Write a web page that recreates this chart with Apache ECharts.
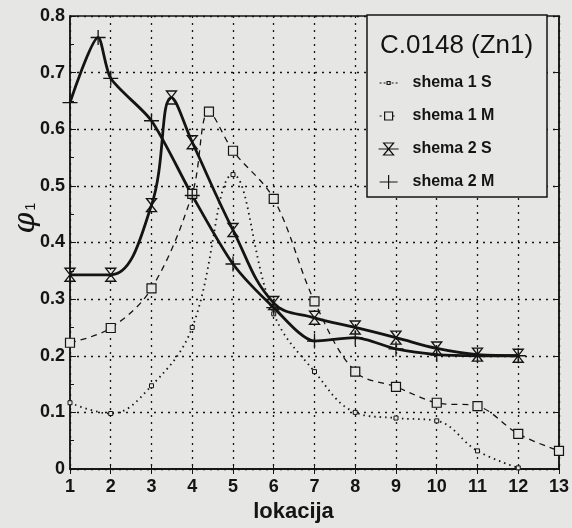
<!DOCTYPE html>
<html><head><meta charset="utf-8">
<script src="https://cdn.jsdelivr.net/npm/echarts@6/dist/echarts.min.js"></script>
<style>html,body{margin:0;padding:0;background:#e6e6e4}#c{width:572px;height:528px}</style>
</head><body><div id="c"></div>
<script>
const xTicks = [1,2,3,4,5,6,7,8,9,10,11,12,13];
const yTicks = [0,0.1,0.2,0.3,0.4,0.5,0.6,0.7,0.8];

const s1S_x = [1,2,3,4,5,6,7,8,9,10,11,12];
const s1S_y = [0.117,0.098,0.147,0.25,0.52,0.274,0.172,0.10,0.09,0.085,0.032,0.002];

const s1M_x = [1,2,3,4,4.41,5,6,7,8,9,10,11,12,13];
const s1M_y = [0.223,0.249,0.319,0.486,0.631,0.562,0.477,0.296,0.172,0.145,0.117,0.111,0.062,0.032];

const s2S_x = [1,2,3,3.49,4,5,6,7,8,9,10,11,12];
const s2S_y = [0.343,0.343,0.466,0.656,0.577,0.422,0.293,0.267,0.25,0.232,0.213,0.202,0.2];

const s2M_x = [1,1.69,2,3,4,5,6,7,8,9,10,11,12];
const s2M_y = [0.647,0.762,0.69,0.615,0.483,0.362,0.285,0.226,0.232,0.212,0.202,0.2,0.2];

const names = ['shema 1 S','shema 1 M','shema 2 S','shema 2 M'];
const titleText = 'C.0148 (Zn1)';
const xName = 'lokacija';

const zip = (a,b) => a.map((v,i)=>[v,b[i]]);
const BG = '#e6e6e4', INK = '#141414';
const FONT = '"Liberation Sans", Arial, sans-serif';
const CORNERS = 'M0,0L0,0M20,14L20,14';
const legendIcons = [
  'path://M1,7L3,7M5,7L7,7M8.5,5.5L11.5,5.5L11.5,8.5L8.5,8.5ZM13,7L15,7M17,7L19,7' + CORNERS,
  'path://M1,7L3,7M14,7L16,7M6,3L14,3L14,11L6,11Z' + CORNERS,
  'path://M5,1L15,1L5,13L15,13ZM0,7L20,7' + CORNERS,
  'path://M1,7L19,7M10,0L10,14' + CORNERS
];

const chart = echarts.init(document.getElementById('c'), null, {renderer:'canvas'});
const grid = {left:70, right:11, top:16, bottom:56, show:true, borderColor:INK, borderWidth:1.5, backgroundColor:'transparent'};
const splitLine = {show:true, lineStyle:{color:INK, type:[2,5], width:1.3}};
chart.setOption({
  backgroundColor: BG,
  animation:false,
  grid,
  title:{text:titleText, left:380, top:33, padding:0, z:20,
    textStyle:{fontFamily:FONT, fontSize:26, fontWeight:'normal', color:INK}},
  legend:{orient:'vertical', left:378, top:75, padding:0, itemGap:17, itemWidth:20, itemHeight:14,
    itemTextGap:14, z:20, formatter: n => '  ' + n,
    data:names.map((n,i)=>({name:n, icon:legendIcons[i]})),
    itemStyle:{color:'rgba(0,0,0,0)', borderColor:INK, borderWidth:1.2},
    textStyle:{fontFamily:FONT, fontSize:16, fontWeight:'bold', color:INK}},
  graphic:[
    {type:'rect', z:10, shape:{x:367, y:15, width:180, height:182},
      style:{fill:BG, stroke:INK, lineWidth:1.5}},
    {type:'text', z:10, x:26, y:218, rotation:Math.PI/2,
      style:{text:'{a|φ}{b|1}', align:'center', verticalAlign:'middle',
        rich:{a:{fontFamily:'"DejaVu Serif", serif', fontStyle:'italic', fontSize:30, fill:INK},
              b:{fontFamily:FONT, fontSize:14, fill:INK, padding:[10,0,0,2]}}}}
  ],
  xAxis:[{type:'value', min:1, max:13, interval:1, position:'bottom',
    name:xName, nameLocation:'middle', nameGap:32,
    nameTextStyle:{fontFamily:FONT, fontSize:22, fontWeight:'bold', color:INK, padding:[0,42,0,0]},
    axisLine:{show:true, lineStyle:{color:INK, width:1.5}},
    axisTick:{show:true, inside:true, length:5, lineStyle:{color:INK}},
    axisLabel:{margin:9, fontFamily:FONT, fontSize:18, fontWeight:'bold', color:INK,
      formatter:v=>xTicks.includes(v)?String(v):''},
    splitLine},
   {type:'value', min:1, max:13, interval:1, position:'top',
    axisLine:{show:true, lineStyle:{color:INK, width:1.5}},
    axisTick:{show:true, inside:true, length:5, lineStyle:{color:INK}},
    axisLabel:{show:false}, splitLine:{show:false}}],
  yAxis:[{type:'value', min:0, max:0.8, interval:0.1,
    axisLine:{show:true, lineStyle:{color:INK, width:1.5}},
    axisTick:{show:true, inside:true, length:6, lineStyle:{color:INK}},
    minorTick:{show:true, splitNumber:2, length:4, lineStyle:{color:INK}},
    axisLabel:{margin:5, fontFamily:FONT, fontSize:18, fontWeight:'bold', color:INK,
      formatter:v=>{const t=yTicks.find(q=>Math.abs(q-v)<1e-9);return t===undefined?'':String(t);}},
    splitLine},
   {type:'value', min:0, max:0.8, interval:0.1, position:'right',
    axisLine:{show:true, lineStyle:{color:INK, width:1.5}},
    axisTick:{show:true, inside:true, length:6, lineStyle:{color:INK}},
    axisLabel:{show:false}, splitLine:{show:false}}],
  series:[
    {name:names[0], type:'line', data:zip(s1S_x,s1S_y), smooth:0.4,
      symbol:'rect', symbolSize:4,
      itemStyle:{color:BG, borderColor:INK, borderWidth:1},
      lineStyle:{color:INK, width:1.8, type:[1.5,4]}},
    {name:names[1], type:'line', data:zip(s1M_x,s1M_y), smooth:0.35,
      symbol:'rect', symbolSize:9,
      itemStyle:{color:BG, borderColor:INK, borderWidth:1.2},
      lineStyle:{color:INK, width:1.3, type:[6,5]}},
    {name:names[2], type:'line', data:zip(s2S_x,s2S_y), smooth:0.4,
      symbol:'path://M0,0L10,0L0,14L10,14Z', symbolSize:[10,13],
      itemStyle:{color:'rgba(0,0,0,0)', borderColor:INK, borderWidth:1.3},
      lineStyle:{color:INK, width:2.8}},
    {name:names[3], type:'line', data:zip(s2M_x,s2M_y), smooth:0.25,
      symbol:'path://M5,0L5,10M0,5L10,5', symbolSize:15,
      itemStyle:{color:'rgba(0,0,0,0)', borderColor:INK, borderWidth:1.3},
      lineStyle:{color:INK, width:2.8}}
  ]
});
</script></body></html>
